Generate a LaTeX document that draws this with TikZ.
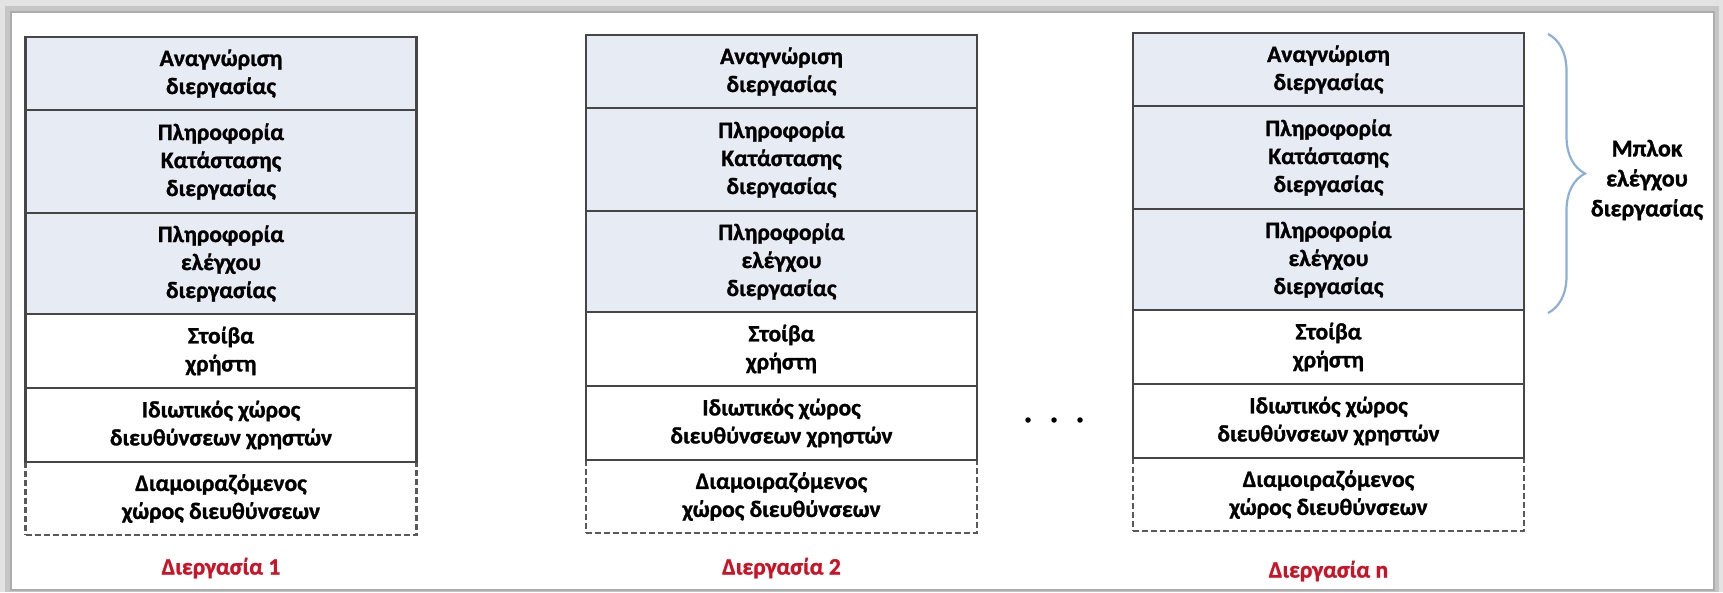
\documentclass[tikz,border=0pt]{standalone}
\usepackage{fontspec}
\setmainfont{Carlito}[BoldFeatures={FakeBold=1.2}]
\usetikzlibrary{decorations.pathreplacing}
\definecolor{cellblue}{RGB}{231,236,244}
\definecolor{cellline}{RGB}{70,70,70}
\definecolor{procred}{RGB}{204,18,36}
\definecolor{bracecol}{RGB}{140,176,218}
\begin{document}
\begin{tikzpicture}[x=1pt,y=-1pt,
  txt/.style={font=\fontsize{23.5}{28}\selectfont\bfseries},
  cell/.style={txt, draw=cellline, line width=2.6pt, minimum width=391pt,
    inner sep=0pt, align=center},
  pcb/.style={cell, fill=cellblue},
  plain/.style={cell, fill=white},
  shared/.style={cell, fill=white, draw=cellline!90, line width=2.2pt,
    dash pattern=on 6pt off 3pt},
  proclabel/.style={txt, text=procred},
  dot/.style={circle, fill=black, inner sep=0pt, minimum size=5.5pt},
  bracket/.style={draw=bracecol, line width=2.2pt,
    decorate, decoration={brace, amplitude=37pt}}
]
\useasboundingbox (0,0) rectangle (1723,592);

% framed panel with a soft grey rim
\fill[gray!22] (0,0) rectangle (1723,592);
\fill[gray!45] (5,6) rectangle (1719,592);
\fill[white] (11,12) rectangle (1714,590);
\draw[gray!65, line width=1.2pt] (11,12) rectangle (1714,590);

% three process images: centre x / top y / index
\foreach \cx/\top/\k in {221/37/1, 781.5/35/2, 1328.5/33/3}{
  \node[shared, minimum height=73pt]  (c\k-6) at (\cx,\top+461.5) {Διαμοιραζόμενος\\χώρος διευθύνσεων};
  \node[plain,  minimum height=74pt]  (c\k-5) at (\cx,\top+388)   {Ιδιωτικός χώρος\\διευθύνσεων χρηστών};
  \node[plain,  minimum height=74pt]  (c\k-4) at (\cx,\top+314)   {Στοίβα\\χρήστη};
  \node[pcb,    minimum height=101pt] (c\k-3) at (\cx,\top+226.5) {Πληροφορία\\ελέγχου\\διεργασίας};
  \node[pcb,    minimum height=103pt] (c\k-2) at (\cx,\top+124.5) {Πληροφορία\\Κατάστασης\\διεργασίας};
  \node[pcb,    minimum height=73pt]  (c\k-1) at (\cx,\top+36.5)  {Αναγνώριση\\διεργασίας};
}

% process captions
\node[proclabel] (p1) at (221,568)    {Διεργασία 1};
\node[proclabel] (p2) at (781.5,568)  {Διεργασία 2};
\node[proclabel] (p3) at (1328.5,571) {Διεργασία n};

% ellipsis between the second and the last process
\node[dot] (d1) at (1028,420) {};
\node[dot] (d2) at (1054,420) {};
\node[dot] (d3) at (1080,420) {};

% brace over the process control block
\coordinate (bt) at (1548,34);
\coordinate (bb) at (1548,313);
\draw[bracket] (bt) -- (bb);
\node[font=\fontsize{24}{30}\selectfont\bfseries, align=center] (pcbname) at (1647,180) {Μπλοκ\\ελέγχου\\διεργασίας};
\end{tikzpicture}
\end{document}
